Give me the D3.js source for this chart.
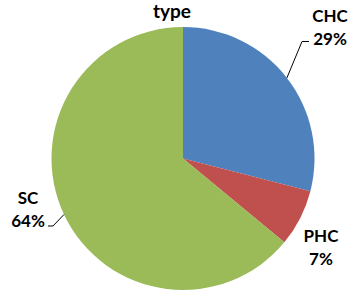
<!DOCTYPE html>
<html>
<head>
<meta charset="utf-8">
<script src="https://cdn.jsdelivr.net/npm/d3@7"></script>
<style>
  html, body { margin: 0; padding: 0; background: #fff; }
  svg { display: block; }
  text { font-family: Lato, "Liberation Sans", sans-serif; font-weight: bold; fill: #000; }
</style>
</head>
<body>
<div id="chart"></div>
<script>
const categories = ["CHC", "PHC", "SC"];
const values = [29, 7, 64];
const colors = ["#4F81BD", "#C0504D", "#9BBB59"];

const width = 350, height = 292;
const cx = 183, cy = 158.5, radius = 131.5;

const svg = d3.select("#chart").append("svg")
    .attr("width", width)
    .attr("height", height);

svg.append("text")
    .attr("x", 172)
    .attr("y", 18)
    .attr("text-anchor", "middle")
    .attr("font-size", 19)
    .text("type");

const pie = d3.pie().sort(null).value((d) => d);
const arcs = pie(values);
const arc = d3.arc().innerRadius(0).outerRadius(radius);

const g = svg.append("g").attr("transform", `translate(${cx},${cy})`);

g.selectAll("path.slice")
    .data(arcs)
    .join("path")
    .attr("class", "slice")
    .attr("fill", (d, i) => colors[i])
    .attr("d", arc);

// label placement (offsets from the pie centre), as in the reference
const labelPos = [
    { x: 147, y: -137 },
    { x: 138, y: 83 },
    { x: -155, y: 45.5 }
];
const lineGap = 23;

categories.forEach((name, i) => {
    const p = labelPos[i];
    const t = g.append("text")
        .attr("text-anchor", "middle")
        .attr("font-size", 17);
    t.append("tspan").attr("x", p.x).attr("y", p.y).text(name);
    t.append("tspan").attr("x", p.x).attr("y", p.y + lineGap).text(values[i] + "%");
});

// leader lines for CHC and SC: rim at mid-angle -> elbow -> short tail
const leaders = [
    { slice: 0, elbow: [119, -117], end: [126, -117] },
    { slice: 2, elbow: [-130, 67.5], end: [-135, 67.5] }
];
leaders.forEach((l) => {
    const a = arcs[l.slice];
    const ang = (a.startAngle + a.endAngle) / 2;
    const rim = [Math.sin(ang) * radius, -Math.cos(ang) * radius];
    g.append("path")
        .attr("fill", "none")
        .attr("stroke", "#000")
        .attr("stroke-width", 1)
        .attr("d", d3.line()([rim, l.elbow, l.end]));
});
</script>
</body>
</html>
